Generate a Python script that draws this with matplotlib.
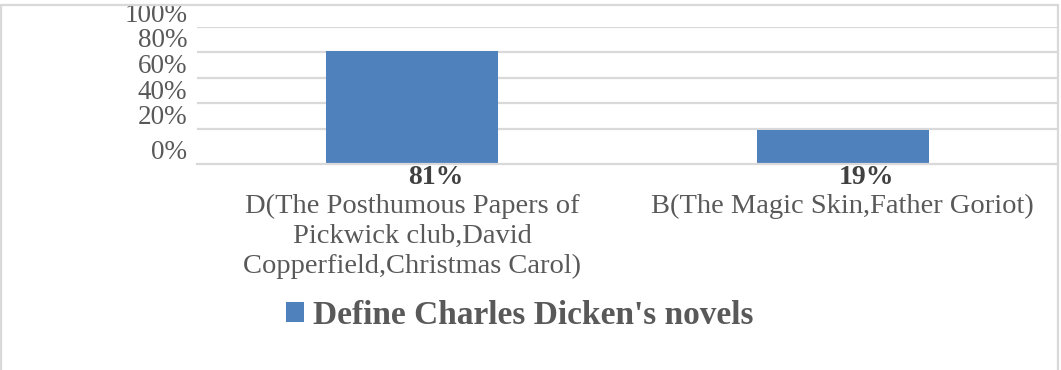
import matplotlib
matplotlib.use("Agg")
import matplotlib.pyplot as plt
from matplotlib.patches import Rectangle

categories = ["D(The Posthumous Papers of\nPickwick club,David\nCopperfield,Christmas Carol)",
              "B(The Magic Skin,Father Goriot)"]
values = [0.81, 0.19]
value_labels = ["81%", "19%"]
ytick_vals = [0.0, 0.2, 0.4, 0.6, 0.8, 1.0]
ytick_labels = ["0%", "20%", "40%", "60%", "80%", "100%"]
series_name = "Define Charles Dicken's novels"

plt.rcParams["font.family"] = ["Liberation Serif", "DejaVu Serif"]
grey = "#595959"
dark = "#404040"
line_col = "#D9D9D9"
bar_col = "#4F81BD"

fig = plt.figure(figsize=(10.61, 3.70), dpi=100)
ax = fig.add_axes([197/1061, 1-164/370, (1058-197)/1061, (164-26.5)/370])

ymin = -0.0745  # the baseline sits a little below the 0% level
ax.set_ylim(ymin, 1.0)
ax.set_xlim(-0.5, 1.5)

x = range(len(values))
bars = ax.bar(x, [v - ymin for v in values], bottom=ymin, width=0.4,
              color=bar_col, label=series_name, zorder=3)

# gridlines
for t in ytick_vals[1:]:
    ax.axhline(t, color=line_col, lw=1.6, zorder=1)

for s in ["top", "right", "left"]:
    ax.spines[s].set_visible(False)
ax.spines["bottom"].set_color(line_col)
ax.spines["bottom"].set_linewidth(1.6)
ax.spines["bottom"].set_zorder(4)

# y tick labels sit a bit above their lines; 0% goes on the baseline
ax.set_yticks([])
for t, lab in zip(ytick_vals, ytick_labels):
    yy = ymin if t == 0 else t
    ax.annotate(lab, xy=(0, yy), xycoords=("axes fraction", "data"),
                xytext=(-7, 8), textcoords="offset points",
                ha="right", va="center", fontsize=19.5, color=grey)

ax.set_xticks(list(x))
ax.set_xticklabels(categories, fontsize=20.5, color=grey, linespacing=1.26)
ax.tick_params(axis="x", length=0, pad=21.5)

for xi, lab in zip(x, value_labels):
    ax.annotate(lab, xy=(xi, ymin), xytext=(17, -9.5), textcoords="offset points",
                ha="center", va="center", fontsize=20, fontweight="bold", color=dark)

leg = fig.legend(handles=[bars], labels=[series_name], loc="center left",
                 bbox_to_anchor=(286/1061, 1-315/370), frameon=False,
                 handlelength=0.55, handleheight=0.55, handletextpad=0.25,
                 borderpad=0, borderaxespad=0,
                 prop={"size": 24, "weight": "bold"})
for txt in leg.get_texts():
    txt.set_color(grey)

# chart border (no bottom edge visible)
fig.add_artist(Rectangle((1/1061, -0.1), 1057/1061, 1.1 - 5/370, transform=fig.transFigure,
                         fill=False, edgecolor=line_col, lw=1.6))

fig.savefig("out.png", dpi=100)
